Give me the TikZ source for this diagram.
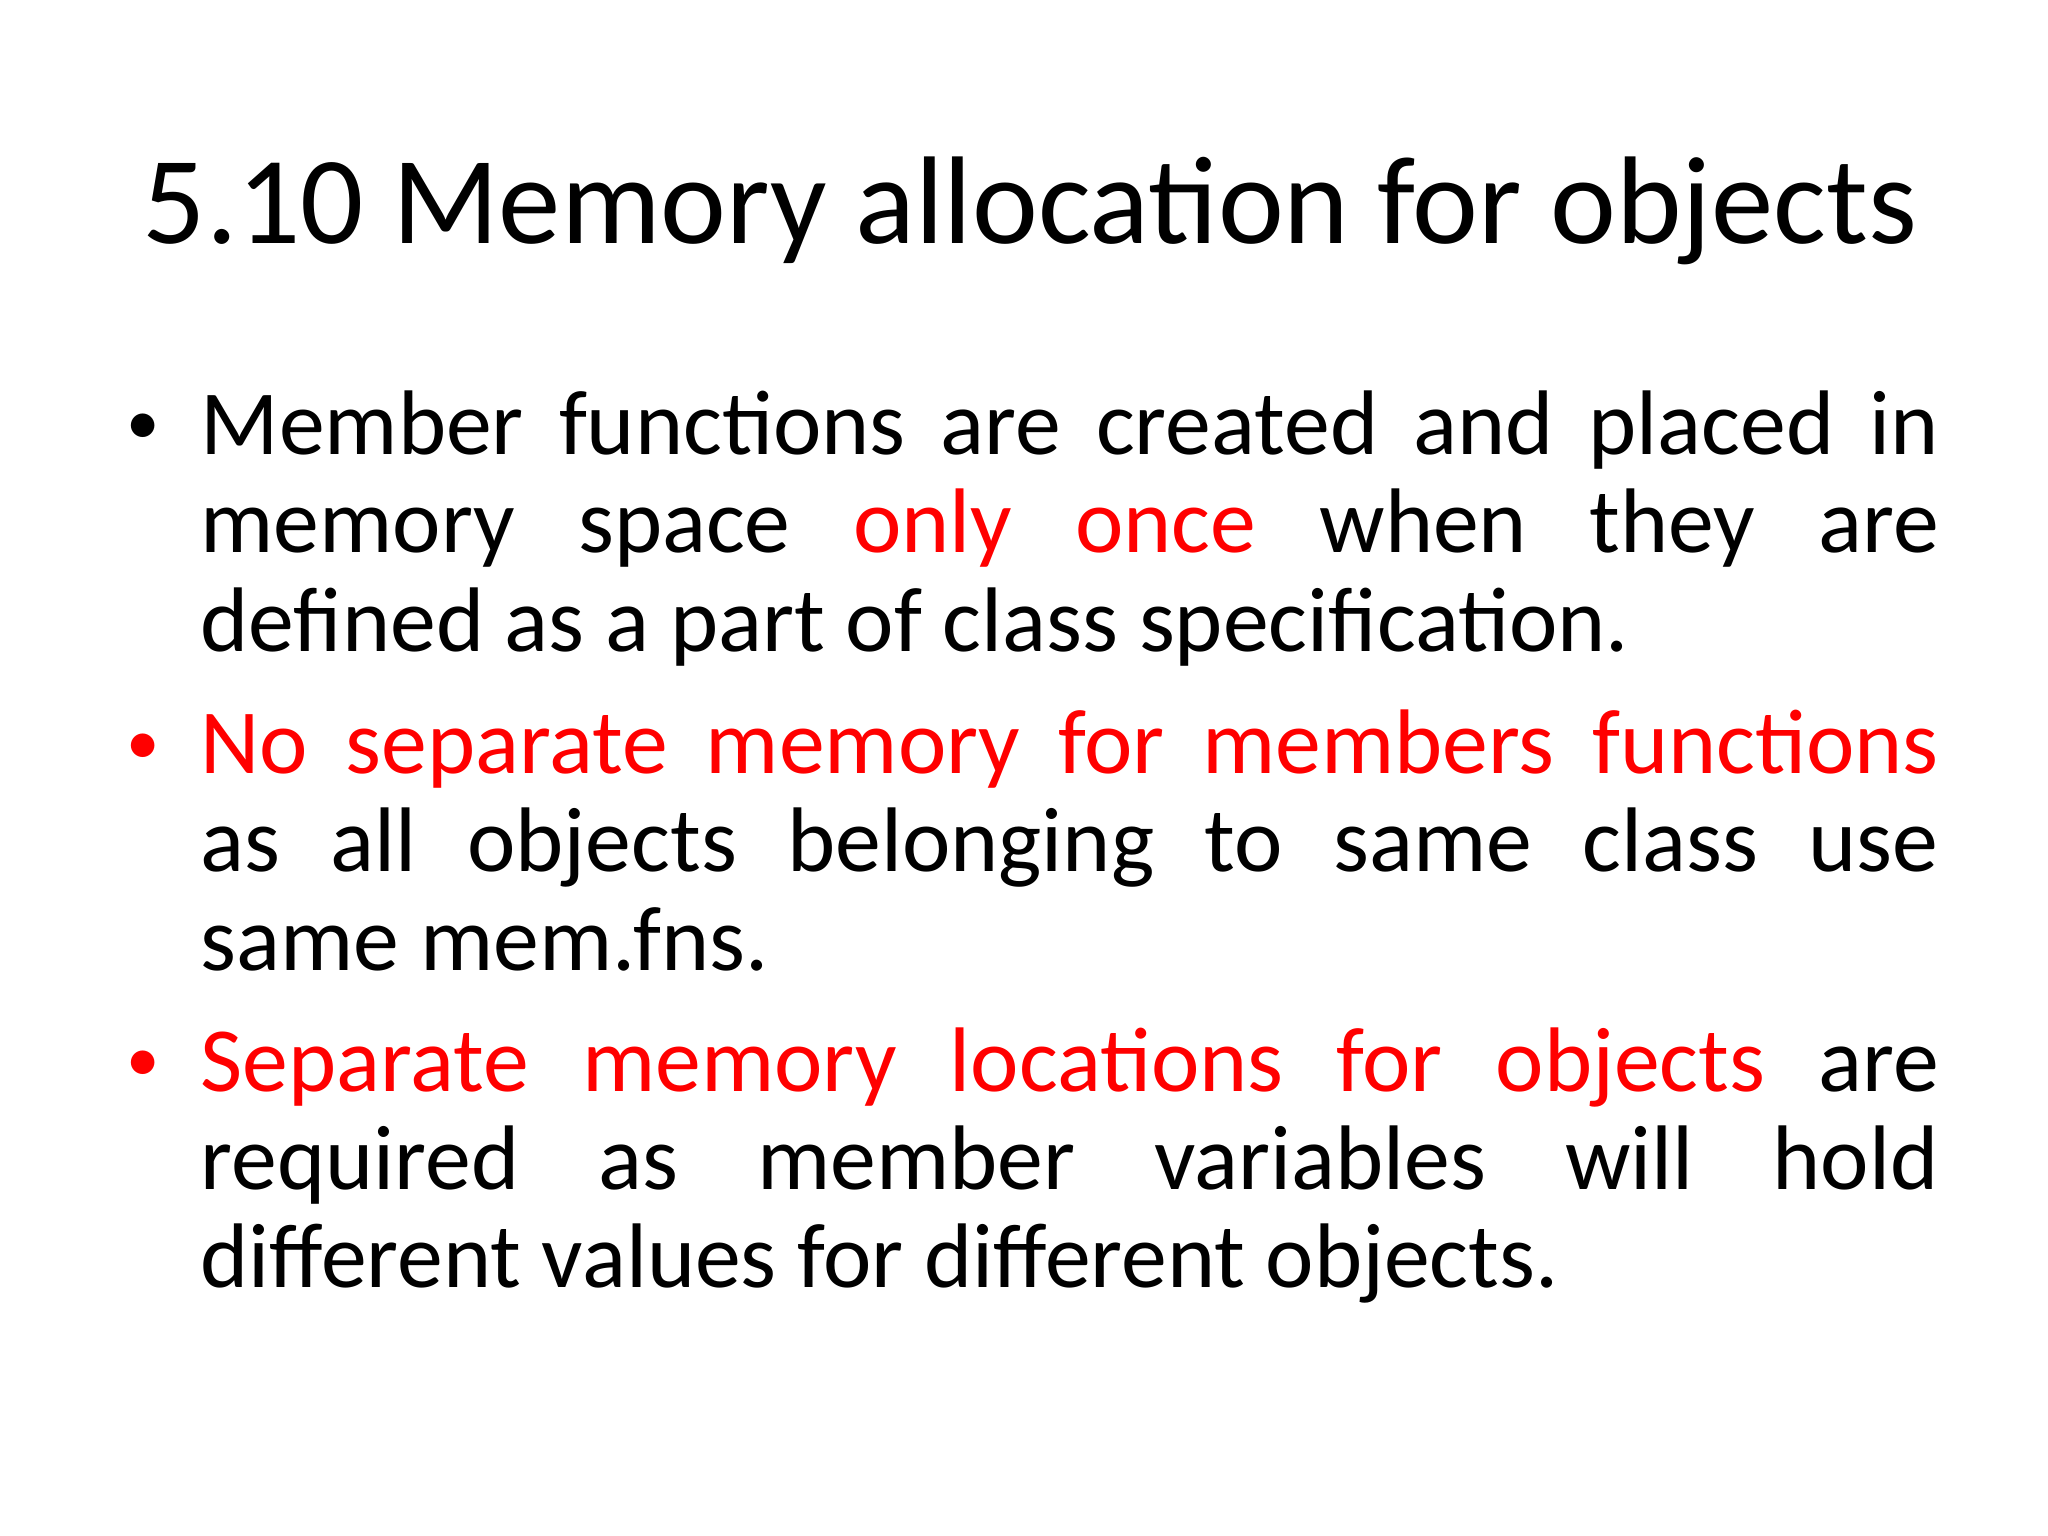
\documentclass[tikz,border=0pt]{standalone}
\usepackage{fontspec}
\setmainfont{Carlito}
\definecolor{hl}{RGB}{255,0,0}
\tikzset{ln/.style={anchor=base west,inner sep=0pt,font=\fontsize{26.1pt}{28pt}\selectfont},
bul/.style={anchor=base west,inner sep=0pt,font=\fontsize{19pt}{20pt}\selectfont}}
\newcommand{\jl}[1]{\makebox[17.38cm][s]{#1}}
\begin{document}
\begin{tikzpicture}
\useasboundingbox (0,0) rectangle (20.48,-15.36);
\fill[white] (0,0) rectangle (20.48,-15.36);
\node[anchor=base,inner sep=0pt,font=\fontsize{35.5pt}{38pt}\selectfont] (title) at (10.3,-2.44) {5.10 Memory allocation for objects};
\node[bul] (b1) at (1.26,-4.45) {•};
\node[ln] (l1) at (2.0,-4.55) {\jl{Member functions are created and placed in}};
\node[ln] (l2) at (2.0,-5.53) {\jl{memory space \textcolor{hl}{only once} when they are}};
\node[ln] (l3) at (2.0,-6.51) {defined as a part of class specification.};
\node[bul,text=hl] (b2) at (1.26,-7.64) {•};
\node[ln] (l4) at (2.0,-7.74) {\jl{\textcolor{hl}{No separate memory for members functions}}};
\node[ln] (l5) at (2.0,-8.72) {\jl{as all objects belonging to same class use}};
\node[ln] (l6) at (2.0,-9.70) {same mem.fns.};
\node[bul,text=hl] (b3) at (1.26,-10.81) {•};
\node[ln] (l7) at (2.0,-10.91) {\jl{\textcolor{hl}{Separate memory locations for objects} are}};
\node[ln] (l8) at (2.0,-11.89) {\jl{required as member variables will hold}};
\node[ln] (l9) at (2.0,-12.87) {different values for different objects.};
\end{tikzpicture}
\end{document}
